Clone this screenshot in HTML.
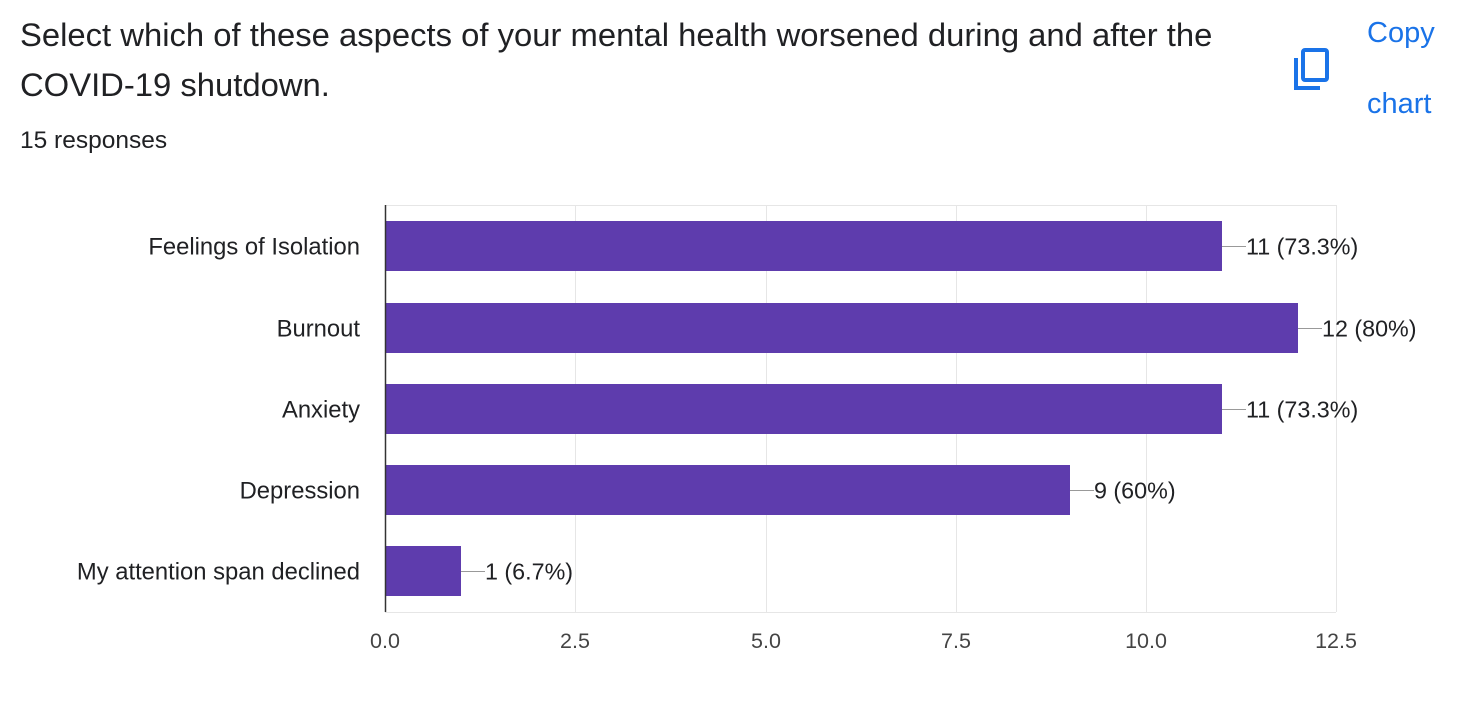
<!DOCTYPE html>
<html><head><meta charset="utf-8"><style>
body{margin:0;width:1466px;height:707px;background:#fff;font-family:"Liberation Sans",Arial,sans-serif;overflow:hidden;position:relative}
.t{position:absolute;left:20px;top:10px;font-size:32.8px;line-height:50px;color:#202124;width:1260px;white-space:nowrap}
.r{position:absolute;left:20px;top:127px;font-size:24.5px;color:#202124}
.c{position:absolute;left:1367px;font-size:29px;color:#1a73e8}
</style></head><body>
<div class="t">Select which of these aspects of your mental health worsened during and after the<br>COVID-19 shutdown.</div>
<div class="r">15 responses</div>
<div class="c" style="top:17px">Copy</div>
<div class="c" style="top:88px">chart</div>
<svg style="position:absolute;left:1290px;top:46px" width="44" height="46" viewBox="0 0 44 46">
<path d="M6 12 V42 H30" fill="none" stroke="#1a73e8" stroke-width="4"/>
<rect x="13" y="4" width="24" height="30" rx="2" fill="none" stroke="#1a73e8" stroke-width="4"/>
</svg>
<svg style="position:absolute;left:0;top:0" width="1466" height="707" font-family="Liberation Sans, Arial, sans-serif">
<g stroke="#e6e6e6" stroke-width="1">
<line x1="575.5" y1="205" x2="575.5" y2="612"/><line x1="766.5" y1="205" x2="766.5" y2="612"/>
<line x1="956.5" y1="205" x2="956.5" y2="612"/><line x1="1146.5" y1="205" x2="1146.5" y2="612"/>
<line x1="1336.5" y1="205" x2="1336.5" y2="612"/>
<line x1="385" y1="205.5" x2="1336" y2="205.5"/><line x1="385" y1="612.5" x2="1336" y2="612.5"/>
</g>
<g fill="#5e3cad">
<rect x="386" y="221" width="836" height="50"/>
<rect x="386" y="303" width="912" height="50"/>
<rect x="386" y="384" width="836" height="50"/>
<rect x="386" y="465" width="684" height="50"/>
<rect x="386" y="546" width="75" height="50"/>
</g>
<line x1="385.5" y1="205" x2="385.5" y2="612" stroke="#333" stroke-width="1.5"/>
<g stroke="#999" stroke-width="1">
<line x1="1222" y1="246.5" x2="1246" y2="246.5"/><line x1="1298" y1="328.5" x2="1322" y2="328.5"/>
<line x1="1222" y1="409.5" x2="1246" y2="409.5"/><line x1="1070" y1="490.5" x2="1094" y2="490.5"/>
<line x1="461" y1="571.5" x2="485" y2="571.5"/>
</g>
<g font-size="23.3" fill="#202124">
<text x="1246" y="254.5">11 (73.3%)</text><text x="1322" y="336.5">12 (80%)</text>
<text x="1246" y="417.5">11 (73.3%)</text><text x="1094" y="498.5">9 (60%)</text>
<text x="485" y="579.5">1 (6.7%)</text>
</g>
<g font-size="23.8" fill="#202124" text-anchor="end">
<text x="360" y="254.5">Feelings of Isolation</text><text x="360" y="336.5">Burnout</text>
<text x="360" y="417.5">Anxiety</text><text x="360" y="498.5">Depression</text>
<text x="360" y="579.5">My attention span declined</text>
</g>
<g font-size="21.5" fill="#444" text-anchor="middle">
<text x="385" y="648">0.0</text><text x="575" y="648">2.5</text><text x="766" y="648">5.0</text>
<text x="956" y="648">7.5</text><text x="1146" y="648">10.0</text><text x="1336" y="648">12.5</text>
</g>
</svg>
</body></html>
